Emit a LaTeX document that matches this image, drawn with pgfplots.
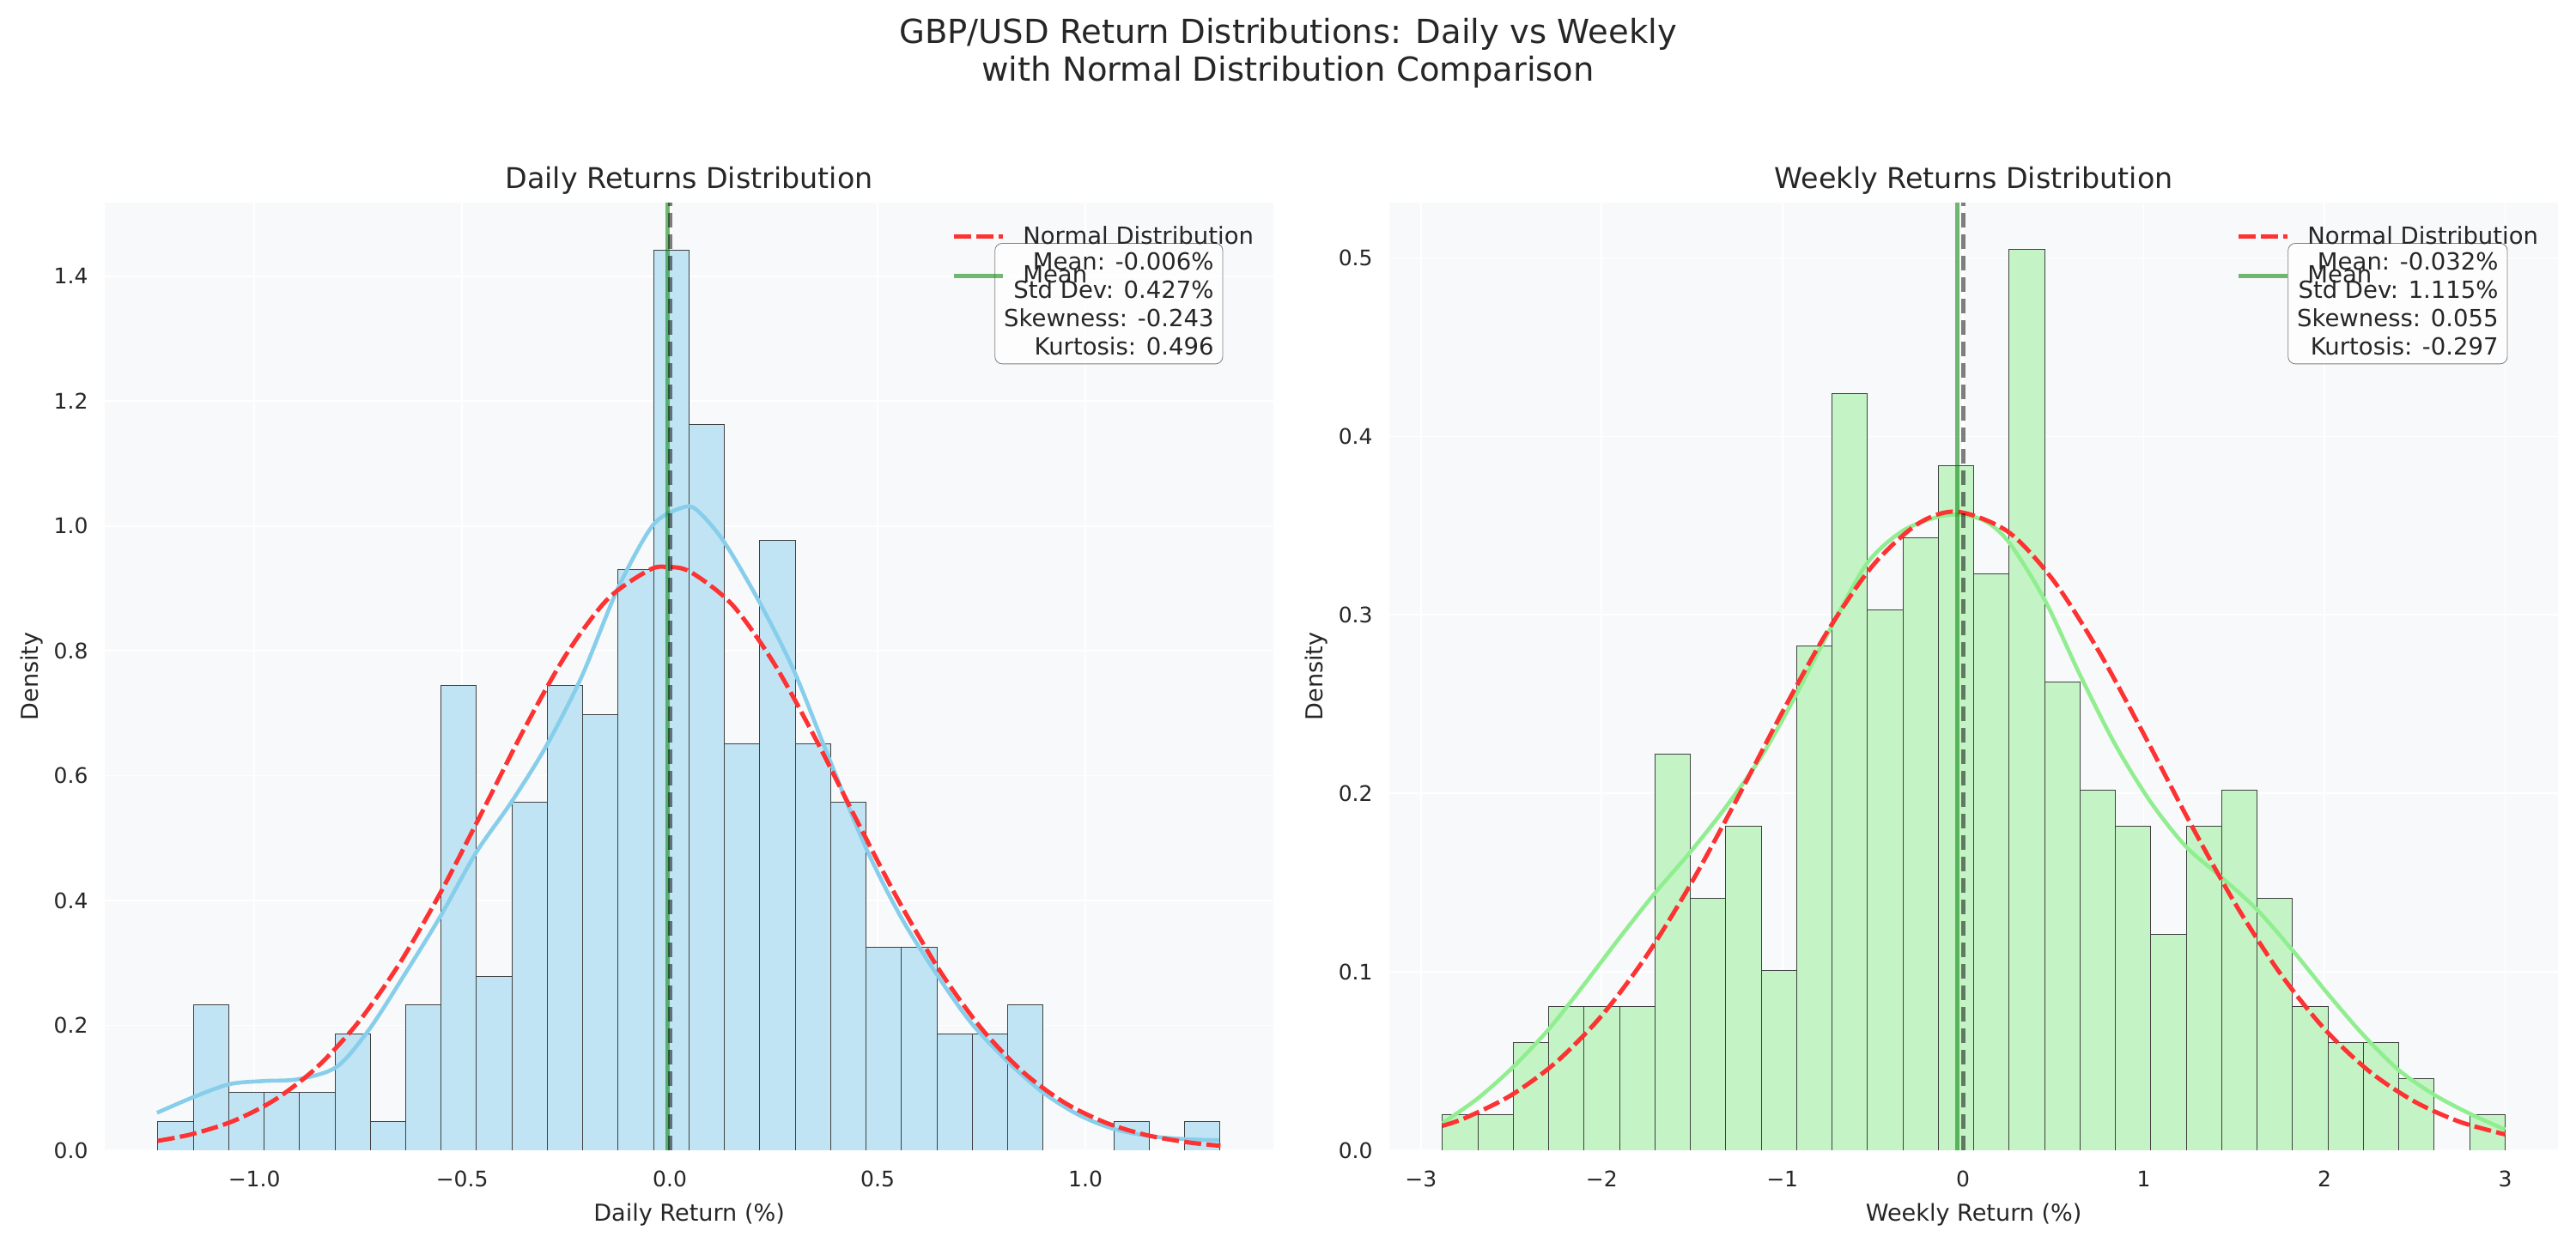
\documentclass[border=0pt]{standalone}
\usepackage{fontspec}
\setmainfont{DejaVu Sans}
\usepackage{pgfplots}
\pgfplotsset{compat=1.18}

\definecolor{axbg}{RGB}{248,249,250}
\definecolor{txt}{RGB}{38,38,38}
\definecolor{skyb}{RGB}{135,206,235}
\definecolor{barblue}{RGB}{192,228,243}
\definecolor{lgreen}{RGB}{144,238,144}
\definecolor{bargreen}{RGB}{196,244,197}
\definecolor{normred}{RGB}{253,50,50}
\definecolor{meangreen}{RGB}{0,128,0}

\tikzset{
  statsty/.style={draw=gray, fill=white, fill opacity=0.8, text opacity=1, rounded corners=4pt,
       align=right, anchor=north east, inner sep=5pt, font=\fontsize{13.2}{15.8}\selectfont, text=txt},
}

\pgfplotsset{
  mystyle/.style={
    scale only axis, width=653.5pt, height=529.9pt,
    axis line style={draw=none},
    axis background/.style={fill=axbg},
    major tick length=0pt,
    grid=major, grid style={white, line width=0.8pt},
    ymin=0,
    clip=true,
    tick label style={font=\fontsize{12}{14}\selectfont, text=txt},
    /pgf/number format/assume math mode=true,
    xticklabel style={anchor=base, yshift=-20.6pt},
    yticklabel style={anchor=east, inner sep=0pt, xshift=-9.1pt,
       /pgf/number format/.cd, fixed, fixed zerofill, precision=1},
    every axis title/.style={at={([yshift=7.7pt]axis description cs:0.5,1)}, anchor=base,
       font=\fontsize{16}{19}\selectfont, text=txt},
    every axis x label/.style={at={([yshift=-39.8pt]axis description cs:0.5,0)}, anchor=base,
       font=\fontsize{13}{15}\selectfont, text=txt},
    every axis y label/.style={at={([xshift=-37pt]axis description cs:0,0.5)}, anchor=base, rotate=90,
       font=\fontsize{13}{15}\selectfont, text=txt},
    legend style={at={(0.7243,0.9758)}, anchor=north west, draw=none, fill=none,
       inner sep=0pt, row sep=10.8pt, column sep=10pt, nodes={inner sep=0pt},
       font=\fontsize{13.2}{15.8}\selectfont, text=txt},
    legend cell align=left,
    legend image code/.code={\draw[#1] (0pt,0pt) -- (27.4pt,0pt);},
  },
  barsty/.style={ybar, bar width=#1, bar shift=0pt, draw=black!75, line width=0.45pt, forget plot},
  normsty/.style={normred, line width=2.4pt, dash pattern=on 9.5pt off 3pt, smooth},
  meansty/.style={meangreen, draw opacity=0.55, line width=2.4pt},
  zerosty/.style={black, draw opacity=0.5, line width=2.4pt, dash pattern=on 8pt off 4pt, forget plot},
}

\begin{document}
\begin{tikzpicture}
\path[use as bounding box] (0,0) rectangle (1440pt,695.04pt);

\node[anchor=base, font=\fontsize{18.5}{22}\selectfont, text=txt] at (720pt,671pt)
  {GBP/USD Return Distributions: Daily vs Weekly};
\node[anchor=base, font=\fontsize{18.5}{22}\selectfont, text=txt] at (720pt,649.7pt)
  {with Normal Distribution Comparison};

% ---------------- Daily ----------------
\begin{axis}[mystyle, at={(58.5pt,51.84pt)}, anchor=south west,
  xmin=-1.360, xmax=1.453, ymax=1.518,
  xtick={-1,-0.5,0,0.5,1}, xticklabels={−1.0,−0.5,0.0,0.5,1.0},
  ytick={0,0.2,0.4,0.6,0.8,1.0,1.2,1.4},
  title={Daily Returns Distribution},
  xlabel={Daily Return (\%)}, ylabel={Density}]

\addplot[barsty=0.0852, fill=barblue] coordinates {
(-1.1894,0.0465) (-1.1042,0.2325) (-1.0190,0.0930) (-0.9338,0.0930) (-0.8486,0.0930)
(-0.7634,0.1860) (-0.6782,0.0465) (-0.5930,0.2325) (-0.5078,0.7440) (-0.4226,0.2790)
(-0.3374,0.5580) (-0.2522,0.7440) (-0.1670,0.6975) (-0.0818,0.9300) (0.0034,1.4415)
(0.0886,1.1625) (0.1738,0.6510) (0.2590,0.9765) (0.3442,0.6510) (0.4294,0.5580)
(0.5146,0.3255) (0.5998,0.3255) (0.6850,0.1860) (0.7702,0.1860) (0.8554,0.2325)
(1.1110,0.0465) (1.2814,0.0465)
};

\addplot[skyb, line width=2.2pt, smooth, forget plot] coordinates {
(-1.234,0.060) (-1.147,0.085) (-1.059,0.106) (-0.976,0.111) (-0.893,0.114) (-0.801,0.134)
(-0.722,0.195) (-0.635,0.285) (-0.551,0.376) (-0.466,0.477) (-0.381,0.558) (-0.297,0.648)
(-0.212,0.759) (-0.125,0.900) (-0.041,1.001) (0.028,1.029) (0.064,1.026) (0.129,0.976)
(0.214,0.880) (0.298,0.769) (0.383,0.628) (0.470,0.487) (0.554,0.376) (0.639,0.285)
(0.724,0.205) (0.810,0.144) (0.895,0.094) (0.980,0.058) (1.064,0.035) (1.151,0.023)
(1.236,0.018) (1.322,0.016)
};

\addplot[normsty] coordinates {
(-1.232,0.0151) (-1.15,0.0258) (-1.05,0.0470) (-0.95,0.0811) (-0.85,0.1325) (-0.75,0.2048)
(-0.65,0.2996) (-0.55,0.4150) (-0.45,0.5441) (-0.35,0.6754) (-0.25,0.7936) (-0.15,0.8827)
(-0.05,0.9294) (-0.006,0.9343) (0.05,0.9263) (0.15,0.8740) (0.25,0.7806) (0.35,0.6600)
(0.45,0.5282) (0.55,0.4003) (0.65,0.2871) (0.75,0.1949) (0.85,0.1253) (0.95,0.0762)
(1.05,0.0439) (1.15,0.0239) (1.25,0.0124) (1.325,0.0072)
};
\addlegendentry{Normal Distribution}

\addplot[meansty] coordinates {(-0.006,0) (-0.006,1.6)};
\addlegendentry{Mean}

\addplot[zerosty] coordinates {(0,0) (0,1.6)};

\node[statsty] at (rel axis cs:0.9567,0.9574)
  {Mean: -0.006\%\\Std Dev: 0.427\%\\Skewness: -0.243\\Kurtosis: 0.496};
\end{axis}

% ---------------- Weekly ----------------
\begin{axis}[mystyle, at={(776.6pt,51.84pt)}, anchor=south west,
  xmin=-3.175, xmax=3.294, ymax=0.531,
  xtick={-3,-2,-1,0,1,2,3}, xticklabels={−3,−2,−1,0,1,2,3},
  ytick={0,0.1,0.2,0.3,0.4,0.5},
  title={Weekly Returns Distribution},
  xlabel={Weekly Return (\%)}, ylabel={Density}]

\addplot[barsty=0.196, fill=bargreen] coordinates {
(-2.783,0.0202) (-2.587,0.0202) (-2.391,0.0606) (-2.195,0.0808) (-1.999,0.0808)
(-1.803,0.0808) (-1.607,0.2222) (-1.411,0.1414) (-1.215,0.1818) (-1.019,0.1010)
(-0.823,0.2828) (-0.627,0.4242) (-0.431,0.3030) (-0.235,0.3434) (-0.039,0.3838)
(0.157,0.3232) (0.353,0.5050) (0.549,0.2626) (0.745,0.2020) (0.941,0.1818)
(1.137,0.1212) (1.333,0.1818) (1.529,0.2020) (1.725,0.1414) (1.921,0.0808)
(2.117,0.0606) (2.313,0.0606) (2.509,0.0404) (2.901,0.0202)
};

\addplot[lgreen, line width=2.2pt, smooth, forget plot] coordinates {
(-2.881,0.0152) (-2.686,0.029) (-2.486,0.047) (-2.291,0.068) (-2.096,0.093) (-1.901,0.119)
(-1.706,0.144) (-1.510,0.167) (-1.315,0.192) (-1.120,0.220) (-0.925,0.255) (-0.725,0.294)
(-0.530,0.329) (-0.335,0.347) (-0.136,0.355) (0.0,0.356) (0.132,0.352) (0.259,0.340)
(0.454,0.308) (0.649,0.266) (0.844,0.227) (1.039,0.195) (1.235,0.170) (1.430,0.153)
(1.625,0.135) (1.824,0.112) (2.020,0.0875) (2.215,0.0646) (2.410,0.045) (2.609,0.031)
(2.804,0.0205) (3.0,0.0116)
};

\addplot[normsty] coordinates {
(-2.881,0.0137) (-2.75,0.0183) (-2.5,0.0309) (-2.25,0.0495) (-2.0,0.0754) (-1.75,0.1092)
(-1.5,0.1504) (-1.25,0.1970) (-1.0,0.2455) (-0.75,0.2908) (-0.5,0.3276) (-0.25,0.3510)
(-0.032,0.3578) (0.25,0.3465) (0.5,0.3193) (0.75,0.2798) (1.0,0.2332) (1.25,0.1847)
(1.5,0.1392) (1.75,0.0998) (2.0,0.0680) (2.25,0.0441) (2.5,0.0272) (2.75,0.0159) (3.0,0.0089)
};
\addlegendentry{Normal Distribution}

\addplot[meansty] coordinates {(-0.032,0) (-0.032,0.6)};
\addlegendentry{Mean}

\addplot[zerosty] coordinates {(0,0) (0,0.6)};

\node[statsty] at (rel axis cs:0.9567,0.9574)
  {Mean: -0.032\%\\Std Dev: 1.115\%\\Skewness: 0.055\\Kurtosis: -0.297};
\end{axis}
\end{tikzpicture}
\end{document}
